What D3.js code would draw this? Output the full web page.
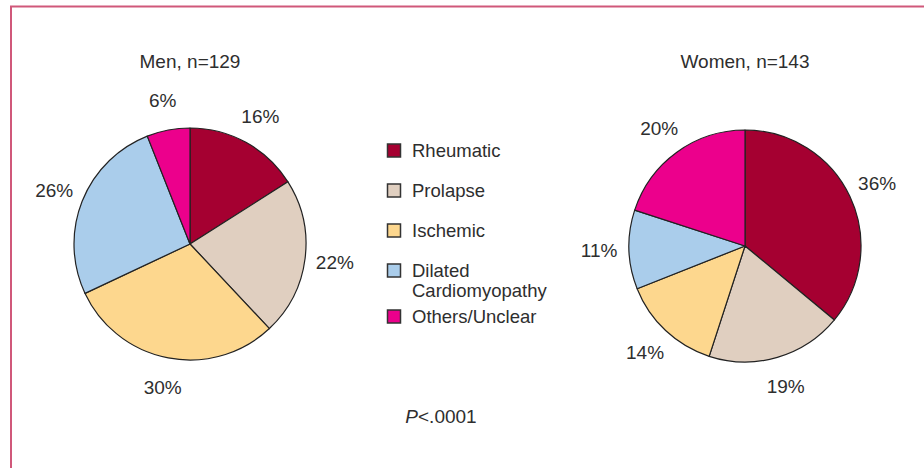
<!DOCTYPE html>
<html>
<head>
<meta charset="utf-8">
<script src="https://cdn.jsdelivr.net/npm/d3@7/dist/d3.min.js"></script>
<style>
  html, body { margin: 0; padding: 0; background: #fff; }
  text { font-family: "Liberation Sans", Arial, sans-serif; fill: #2e2e2e; }
</style>
</head>
<body>
<svg id="chart" width="924" height="468"></svg>
<script>
// ---- data ----
const categories = ["Rheumatic", "Prolapse", "Ischemic", "Dilated Cardiomyopathy", "Others/Unclear"];
const legendLines = [["Rheumatic"], ["Prolapse"], ["Ischemic"], ["Dilated", "Cardiomyopathy"], ["Others/Unclear"]];
const colors = ["#A50031", "#E0CFC0", "#FDD78E", "#AACDEB", "#EC008C"];
const menValues = [16, 22, 30, 26, 6];
const womenValues = [36, 19, 14, 11, 20];
const menTitle = "Men, n=129";
const womenTitle = "Women, n=143";
const pValue = ".0001";

// ---- drawing ----
const svg = d3.select("#chart");

// partial frame (top and left)
svg.append("path")
  .attr("d", "M11,468 L11,6.5 L924,6.5")
  .attr("fill", "none")
  .attr("stroke", "#D0587A")
  .attr("stroke-width", 2);

const color = d3.scaleOrdinal().domain(categories).range(colors);
const radius = 116;
const labelRadius = 146;

const pie = d3.pie().sort(null).value(d => d.value);
const arc = d3.arc().innerRadius(0).outerRadius(radius);
const labelArc = d3.arc().innerRadius(labelRadius).outerRadius(labelRadius);

function drawPie(cx, cy, values, title) {
  const data = categories.map((c, i) => ({ cat: c, value: values[i] }));
  const g = svg.append("g").attr("transform", `translate(${cx},${cy})`);
  const arcs = pie(data);
  g.selectAll("path.slice")
    .data(arcs)
    .join("path")
    .attr("class", "slice")
    .attr("d", arc)
    .attr("fill", d => color(d.data.cat))
    .attr("stroke", "#222")
    .attr("stroke-width", 1.2)
    .attr("stroke-linejoin", "round");
  g.selectAll("text.lbl")
    .data(arcs)
    .join("text")
    .attr("class", "lbl")
    .attr("transform", d => `translate(${labelArc.centroid(d)})`)
    .attr("text-anchor", "middle")
    .attr("dy", "0.35em")
    .attr("font-size", 19)
    .text(d => d.data.value + "%");
  svg.append("text")
    .attr("x", cx)
    .attr("y", 68)
    .attr("text-anchor", "middle")
    .attr("font-size", 19)
    .text(title);
}

drawPie(190, 244, menValues, menTitle);
drawPie(745, 246, womenValues, womenTitle);

// legend
const legend = svg.append("g").attr("transform", "translate(387,0)");
let baseY = 157;
legendLines.forEach((lines, i) => {
  const cat = categories[i];
  const row = legend.append("g");
  row.append("rect")
    .attr("x", 0.5)
    .attr("y", baseY - 13)
    .attr("width", 13)
    .attr("height", 13)
    .attr("fill", color(cat))
    .attr("stroke", "#333")
    .attr("stroke-width", 1.5);
  lines.forEach((ln, j) => {
    row.append("text")
      .attr("x", 25)
      .attr("y", baseY + j * 20)
      .attr("font-size", 18.5)
      .text(ln);
  });
  baseY += 40 + (lines.length - 1) * 6;
});

// p-value
const pt = svg.append("text")
  .attr("x", 441)
  .attr("y", 423)
  .attr("text-anchor", "middle")
  .attr("font-size", 19);
pt.append("tspan").attr("font-style", "italic").text("P");
pt.append("tspan").text("<" + pValue);
</script>
</body>
</html>
